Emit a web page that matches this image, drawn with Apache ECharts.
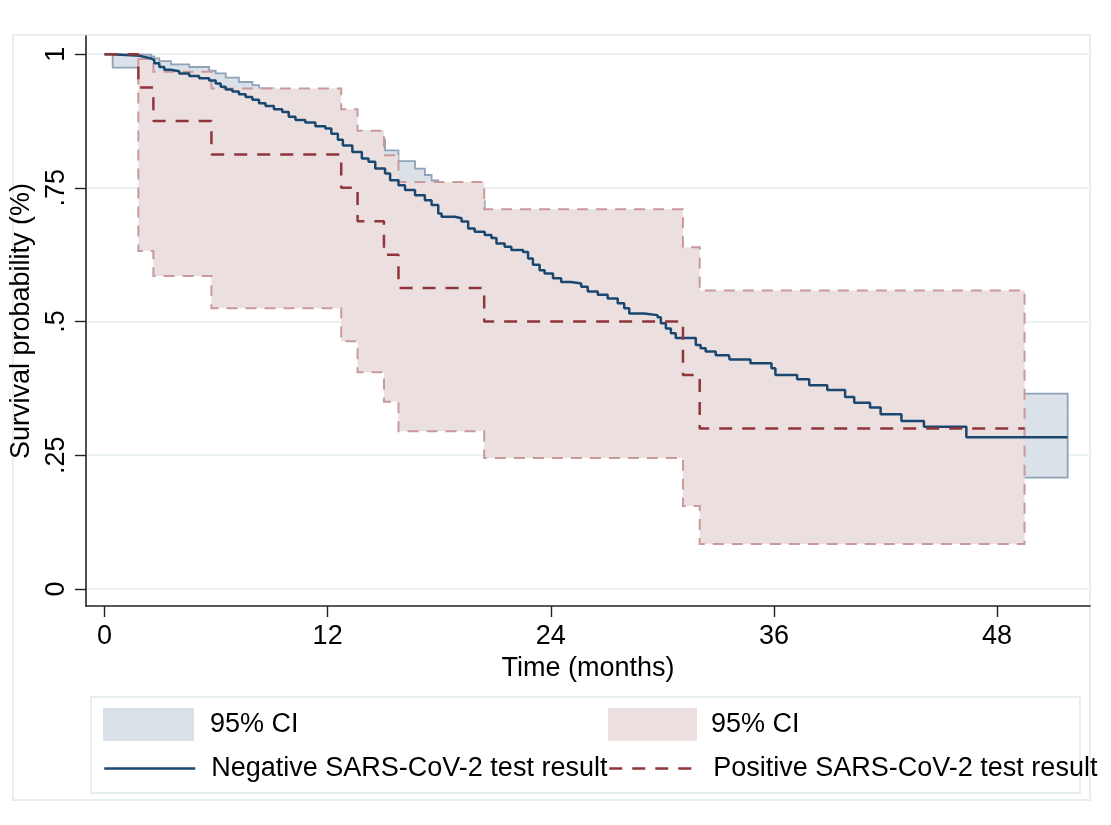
<!DOCTYPE html>
<html>
<head>
<meta charset="utf-8">
<script src="https://cdn.jsdelivr.net/npm/echarts@6/dist/echarts.min.js"></script>
<style>
  html, body { margin: 0; padding: 0; background: #ffffff; }
  #chart { width: 1111px; height: 825px; }
</style>
</head>
<body>
<div id="chart"></div>
<script>
// ---------------- data ----------------
// Negative SARS-CoV-2 test result: Kaplan-Meier survival (months, probability after the step)
const negTime = [0, 0.44, 1.88, 2.14, 2.50, 2.68, 2.95, 3.22, 3.57, 4.02, 4.56, 5.09, 5.63, 5.98, 6.25, 6.52, 6.88, 7.23, 7.59, 7.95,
  8.31, 8.66, 9.11, 9.56, 9.91, 10.27, 10.80, 11.34, 11.88, 12.20, 12.55, 12.82, 13.33, 13.84, 14.20, 14.56, 15.09, 15.36, 15.81, 16.16,
  16.70, 17.23, 17.59, 17.95, 18.13, 18.84, 19.20, 19.56, 19.91, 20.45, 20.81, 21.08, 21.52, 21.88, 22.51, 22.78, 23.04, 23.40, 23.67, 24.12,
  24.56, 25.10, 25.64, 25.99, 26.53, 27.06, 27.60, 27.95, 28.22, 29.02, 29.74, 29.92, 30.19, 30.46, 30.72, 31.80, 32.06, 32.33, 32.87, 33.58,
  33.62, 34.74, 35.87, 36.08, 37.25, 37.90, 38.87, 39.83, 40.32, 41.17, 41.74, 42.86, 44.07, 46.35, 51.80];
const negSurv = [1, 0.997, 0.995, 0.992, 0.989, 0.983, 0.976, 0.971, 0.968, 0.964, 0.959, 0.955, 0.951, 0.945, 0.939, 0.934, 0.930, 0.925, 0.920, 0.915,
  0.908, 0.903, 0.897, 0.892, 0.883, 0.877, 0.872, 0.865, 0.861, 0.851, 0.840, 0.829, 0.817, 0.805, 0.799, 0.786, 0.777, 0.764, 0.755, 0.746,
  0.736, 0.727, 0.718, 0.702, 0.696, 0.693, 0.687, 0.674, 0.668, 0.662, 0.656, 0.646, 0.640, 0.634, 0.630, 0.618, 0.606, 0.596, 0.590, 0.581,
  0.574, 0.571, 0.565, 0.556, 0.550, 0.543, 0.534, 0.525, 0.515, 0.512, 0.508, 0.497, 0.487, 0.478, 0.469, 0.456, 0.450, 0.444, 0.437, 0.434,
  0.429, 0.422, 0.4125, 0.400, 0.392, 0.381, 0.372, 0.359, 0.348, 0.339, 0.3265, 0.314, 0.303, 0.2836, 0.2836];

// Negative group 95% CI (step times; last time is the end of the band)
const negCiTime = [0.44, 1.88, 2.50, 2.68, 2.95, 3.57, 4.56, 5.63, 5.98, 6.52, 7.23, 7.95, 8.31, 9.11, 10.27, 11.34, 12.55, 13.33, 14.20, 15.09,
  15.81, 16.70, 17.23, 17.59, 17.95, 19.56, 20.45, 21.08, 22.78, 24.12, 25.99, 27.95, 29.92, 30.72, 31.80, 33.62, 36.08, 37.90, 39.83, 41.17,
  42.86, 44.07, 46.35, 51.80];
const negCiUpper = [0.999, 0.999, 0.996, 0.992, 0.987, 0.981, 0.976, 0.969, 0.964, 0.956, 0.948, 0.942, 0.936, 0.928, 0.915, 0.905, 0.89, 0.855, 0.84, 0.82,
  0.80, 0.786, 0.774, 0.764, 0.748, 0.725, 0.705, 0.695, 0.665, 0.625, 0.605, 0.57, 0.55, 0.525, 0.51, 0.49, 0.465, 0.45, 0.43, 0.41,
  0.39, 0.38, 0.365, 0.365];
const negCiLower = [0.975, 0.97, 0.965, 0.96, 0.955, 0.948, 0.94, 0.93, 0.92, 0.91, 0.90, 0.89, 0.88, 0.87, 0.85, 0.835, 0.81, 0.79, 0.765, 0.745,
  0.72, 0.70, 0.69, 0.68, 0.665, 0.64, 0.62, 0.605, 0.57, 0.535, 0.51, 0.475, 0.455, 0.425, 0.405, 0.385, 0.355, 0.335, 0.305, 0.285,
  0.27, 0.255, 0.208, 0.208];

// Positive SARS-CoV-2 test result: Kaplan-Meier survival
const posTime = [0, 1.82, 2.63, 5.75, 12.73, 13.61, 15.03, 15.81, 20.42, 31.11, 32.01, 49.48];
const posSurv = [1, 0.9375, 0.875, 0.8125, 0.75, 0.6875, 0.625, 0.5625, 0.5, 0.4, 0.3, 0.3];

// Positive group 95% CI
const posCiTime = [1.82, 2.63, 5.75, 12.73, 13.61, 15.03, 15.81, 20.42, 31.11, 32.01, 49.48];
const posCiUpper = [0.991, 0.967, 0.936, 0.897, 0.857, 0.811, 0.761, 0.710, 0.639, 0.558, 0.558];
const posCiLower = [0.632, 0.585, 0.525, 0.463, 0.405, 0.350, 0.295, 0.245, 0.155, 0.084, 0.084];

// Axes
const xTicks = [0, 12, 24, 36, 48];
const yTicks = [0, 0.25, 0.5, 0.75, 1];
const yTickLabels = ['0', '.25', '.5', '.75', '1'];

const negName = 'Negative SARS-CoV-2 test result';
const posName = 'Positive SARS-CoV-2 test result';
const negCiName = 'Negative 95% CI';
const posCiName = 'Positive 95% CI';

// ---------------- chart ----------------
const FONT = "'Liberation Sans', Arial, Helvetica, sans-serif";
const FS = 27;
const chart = echarts.init(document.getElementById('chart'), null, { renderer: 'canvas' });

function bandSeries(name, times, lower, upper, fill, stroke, dash, z) {
  return {
    name: name,
    type: 'custom',
    z: z,
    silent: true,
    itemStyle: { color: fill },
    data: [[times[0], lower[0]]],
    encode: { x: 0, y: 1 },
    renderItem: function (params, api) {
      const pts = [];
      const n = times.length;
      for (let i = 0; i < n - 1; i++) {
        pts.push(api.coord([times[i], upper[i]]));
        pts.push(api.coord([times[i + 1], upper[i]]));
      }
      for (let i = n - 2; i >= 0; i--) {
        pts.push(api.coord([times[i + 1], lower[i]]));
        pts.push(api.coord([times[i], lower[i]]));
      }
      return {
        type: 'polygon',
        shape: { points: pts },
        style: { fill: fill, stroke: stroke, lineWidth: dash ? 2 : 1.8, lineDash: dash || null }
      };
    }
  };
}

const legendText = { fontSize: FS, color: '#000', fontFamily: FONT };

const option = {
  animation: false,
  backgroundColor: '#ffffff',
  textStyle: { fontFamily: FONT },
  grid: { left: 83, right: 21, top: 36, bottom: 219, containLabel: false },
  xAxis: {
    type: 'value',
    min: -1,
    max: 53,
    name: 'Time (months)',
    nameLocation: 'middle',
    nameGap: 48,
    nameTextStyle: { fontSize: FS, color: '#000', fontFamily: FONT },
    axisLine: { show: true, onZero: false, lineStyle: { color: '#222', width: 1.6 } },
    axisTick: { show: true, length: 11, customValues: xTicks, lineStyle: { color: '#222', width: 1.4 } },
    axisLabel: { customValues: xTicks, fontSize: FS, color: '#000', margin: 17, fontFamily: FONT },
    splitLine: { show: false }
  },
  yAxis: {
    type: 'value',
    min: -0.032,
    max: 1.034,
    name: 'Survival probability (%)',
    nameLocation: 'middle',
    nameGap: 40,
    nameTextStyle: { fontSize: FS, color: '#000', fontFamily: FONT },
    axisLine: { show: true, onZero: false, lineStyle: { color: '#222', width: 1.6 } },
    axisTick: { show: true, length: 11, customValues: yTicks, lineStyle: { color: '#222', width: 1.4 } },
    axisLabel: {
      customValues: yTicks, fontSize: FS, color: '#000', margin: 16, rotate: 90, fontFamily: FONT,
      formatter: function (v) {
        const i = yTicks.findIndex(t => Math.abs(t - v) < 1e-9);
        return i >= 0 ? yTickLabels[i] : '';
      }
    },
    splitLine: { show: true, lineStyle: { color: '#eaf2f3', width: 2 } }
  },
  legend: [
    { data: [negCiName], left: 103, top: 708, padding: 0, itemWidth: 91, itemHeight: 33, icon: 'rect', itemGap: 0,
      formatter: () => '95% CI', itemStyle: { borderWidth: 0 },
      textStyle: Object.assign({ padding: [0, 0, 0, 11] }, legendText), selectedMode: false },
    { data: [posCiName], left: 608, top: 708, padding: 0, itemWidth: 89, itemHeight: 33, icon: 'rect', itemGap: 0,
      formatter: () => '95% CI', itemStyle: { borderWidth: 0 },
      textStyle: Object.assign({ padding: [0, 0, 0, 9] }, legendText), selectedMode: false },
    { data: [negName], left: 103, top: 755, padding: 0, itemWidth: 91, itemHeight: 26, itemGap: 0,
      itemStyle: { opacity: 0 }, lineStyle: { width: 2.5 },
      textStyle: Object.assign({ padding: [0, 0, 0, 11] }, legendText), selectedMode: false },
    { data: [posName], left: 608, top: 755, padding: 0, itemWidth: 92, itemHeight: 26, itemGap: 0,
      itemStyle: { opacity: 0 }, lineStyle: { width: 2.5 },
      textStyle: Object.assign({ padding: [0, 0, 0, 7] }, legendText), selectedMode: false }
  ],
  graphic: [
    { type: 'rect', z: -10, silent: true, shape: { x: 13, y: 35, width: 1077, height: 765 },
      style: { fill: null, stroke: '#e7eef0', lineWidth: 2 } },
    { type: 'rect', z: -10, silent: true, shape: { x: 91, y: 697, width: 989, height: 96 },
      style: { fill: null, stroke: '#e7eef0', lineWidth: 2 } }
  ],
  series: [
    bandSeries(negCiName, negCiTime, negCiLower, negCiUpper, '#dbe1e9', '#8ea3b8', null, 2),
    bandSeries(posCiName, posCiTime, posCiLower, posCiUpper, '#ecdfe0', '#c9999d', [11, 8], 3),
    {
      name: negName,
      type: 'line',
      step: 'end',
      z: 4,
      symbol: 'none',
      silent: true,
      color: '#1a476f',
      lineStyle: { color: '#1a476f', width: 2.5 },
      data: negTime.map((t, i) => [t, negSurv[i]])
    },
    {
      name: posName,
      type: 'line',
      step: 'end',
      z: 5,
      symbol: 'none',
      silent: true,
      color: '#90353b',
      lineStyle: { color: '#90353b', width: 2.5, type: [13, 10] },
      data: posTime.map((t, i) => [t, posSurv[i]])
    }
  ]
};

chart.setOption(option);
</script>
</body>
</html>
